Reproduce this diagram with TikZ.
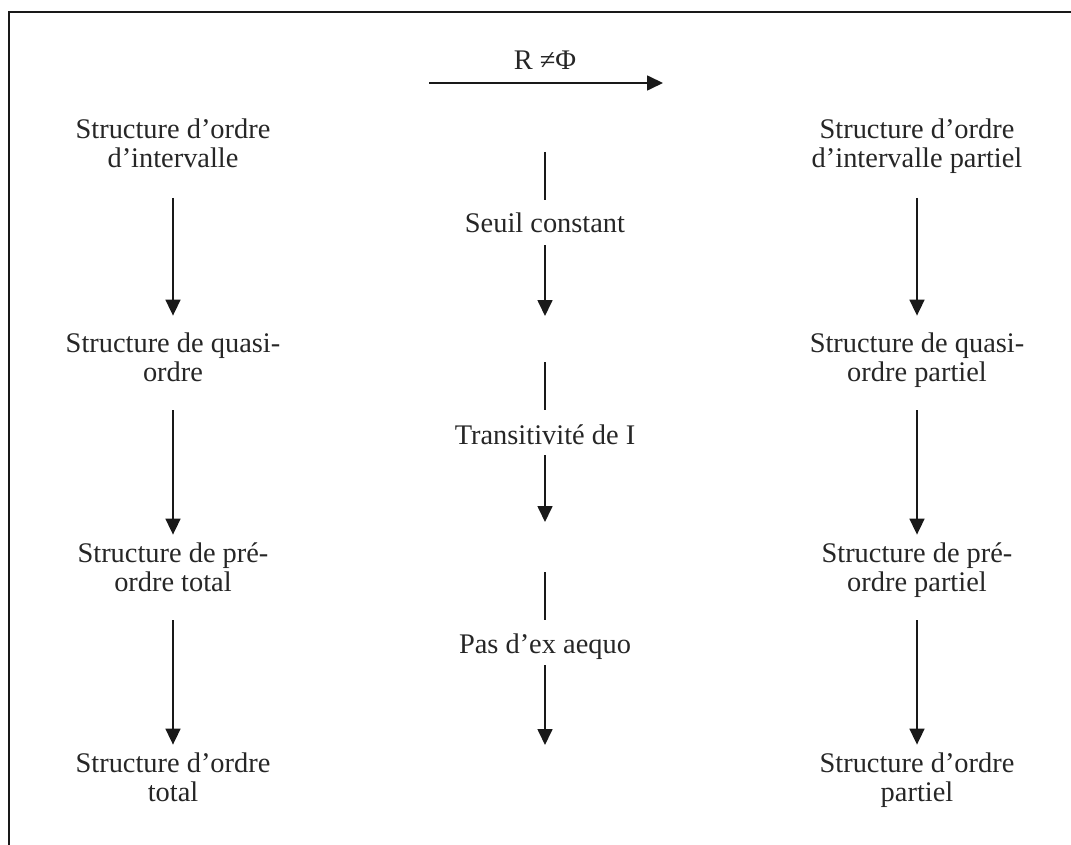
\documentclass[tikz,border=0pt]{standalone}
\usepackage{fontspec}
\setmainfont{Liberation Serif}
\usetikzlibrary{arrows.meta}
\begin{document}
\begin{tikzpicture}[x=1pt,y=-1pt,
  lab/.style={inner sep=0pt, align=center, text=black!85, font=\fontsize{28.4}{28.5}\selectfont},
  arr/.style={-{Triangle[length=16pt,width=15pt]}, line width=1.7pt, draw=black!90},
  seg/.style={line width=1.7pt, draw=black!90}]
\useasboundingbox (0,0) rectangle (1071,845);
% frame
\draw[line width=2pt, black!90] (9,845) -- (9,12.5) -- (1071,12.5);
% top arrow
\coordinate (ta) at (429,83);
\coordinate (tb) at (663,83);
\draw[arr] (ta) -- (tb);
\node[lab, anchor=base] (rl) at (545,70) {R ≠Φ};
% left column
\node[lab] (l1) at (173,147.3) {Structure d’ordre\strut\\d’intervalle\strut};
\node[lab] (l2) at (173,361.3) {Structure de quasi-\strut\\ordre\strut};
\node[lab] (l3) at (173,571.3) {Structure de pré-\strut\\ordre total\strut};
\node[lab] (l4) at (173,781.3) {Structure d’ordre\strut\\total\strut};
% right column
\node[lab] (r1) at (917,147.3) {Structure d’ordre\strut\\d’intervalle partiel\strut};
\node[lab] (r2) at (917,361.3) {Structure de quasi-\strut\\ordre partiel\strut};
\node[lab] (r3) at (917,571.3) {Structure de pré-\strut\\ordre partiel\strut};
\node[lab] (r4) at (917,781.3) {Structure d’ordre\strut\\partiel\strut};
% side arrows
\draw[arr, shorten <=22pt, shorten >=17pt] (l1) -- (l2);
\draw[arr, shorten <=20pt, shorten >=8pt] (l2) -- (l3);
\draw[arr, shorten <=20pt, shorten >=8pt] (l3) -- (l4);
\draw[arr, shorten <=22pt, shorten >=17pt] (r1) -- (r2);
\draw[arr, shorten <=20pt, shorten >=8pt] (r2) -- (r3);
\draw[arr, shorten <=20pt, shorten >=8pt] (r3) -- (r4);
% middle column
\node[lab] (m1) at (545,227.3) {Seuil constant\strut};
\node[lab] (m2) at (545,438.3) {Transitivité de I\strut};
\node[lab] (m3) at (545,647.3) {Pas d’ex aequo\strut};
\coordinate (mt1) at (545,152);
\coordinate (mb1) at (545,316);
\coordinate (mt2) at (545,362);
\coordinate (mb2) at (545,522);
\coordinate (mt3) at (545,572);
\coordinate (mb3) at (545,745);
\draw[seg, shorten >=13pt] (mt1) -- (m1);
\draw[arr, shorten <=3.5pt] (m1) -- (mb1);
\draw[seg, shorten >=14pt] (mt2) -- (m2);
\draw[arr, shorten <=2.5pt] (m2) -- (mb2);
\draw[seg, shorten >=13pt] (mt3) -- (m3);
\draw[arr, shorten <=3.5pt] (m3) -- (mb3);
\end{tikzpicture}
\end{document}
